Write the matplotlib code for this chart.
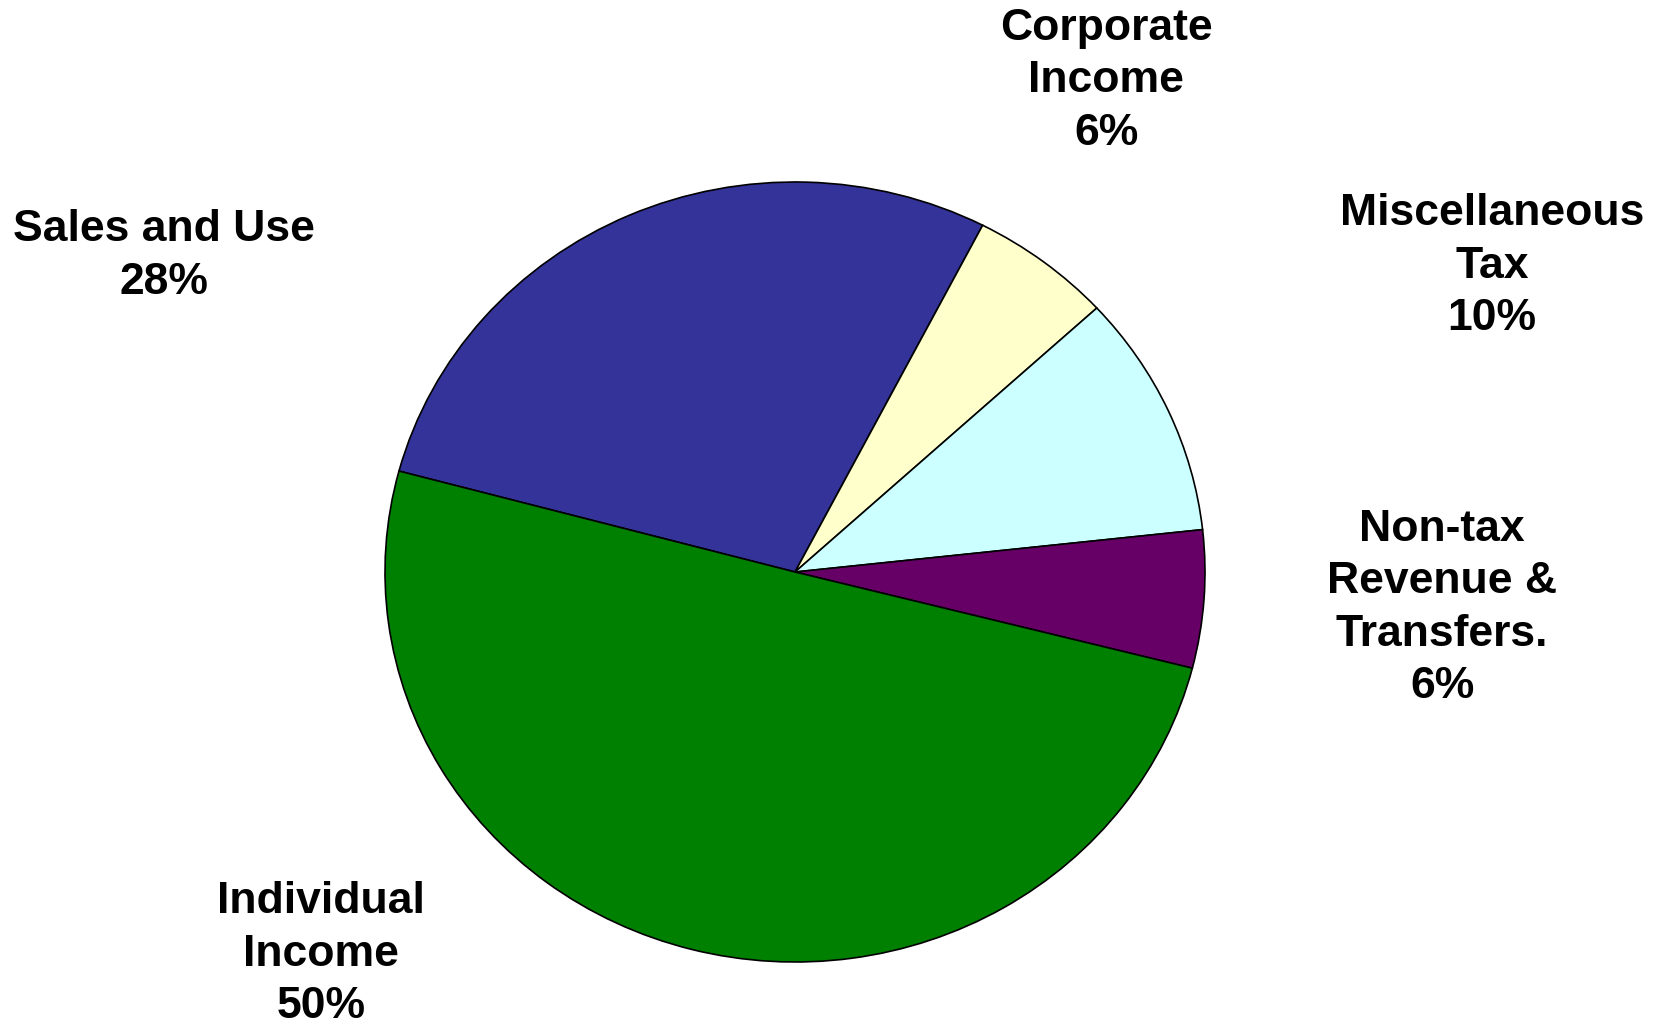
import matplotlib
matplotlib.use("Agg")
import matplotlib.pyplot as plt

categories = ["Sales and Use", "Corporate\nIncome", "Miscellaneous\nTax",
              "Non-tax\nRevenue &\nTransfers.", "Individual\nIncome"]
values = [28.4, 5.6, 10.1, 5.7, 50.2]
colors = ["#333399", "#FFFFCC", "#CCFFFF", "#660066", "#008000"]

# label block centre positions in pixels of the 1659x1024 figure
label_pos = [(164, 256), (1106, 81), (1492, 266), (1442, 608), (321, 954)]

W, H = 1659, 1024
fig = plt.figure(figsize=(W / 100, H / 100), dpi=100)
fig.patch.set_facecolor("white")

ax = fig.add_axes([385 / W, 1 - 962 / H, 820 / W, 780 / H])
ax.pie(values, colors=colors, startangle=165, counterclock=False,
       wedgeprops=dict(edgecolor="black", linewidth=1.2))
ax.set_aspect("auto")
ax.set_xlim(-1, 1)
ax.set_ylim(-1, 1)
ax.axis("off")

total = sum(values)
for cat, v, (px, py) in zip(categories, values, label_pos):
    txt = f"{cat}\n{round(100 * v / total):d}%"
    fig.text(px / W, 1 - py / H, txt, ha="center", va="center",
             multialignment="center",
             fontsize=32, fontweight="bold", family="Liberation Sans",
             linespacing=1.36)

fig.savefig("out.png", dpi=100, facecolor="white")
